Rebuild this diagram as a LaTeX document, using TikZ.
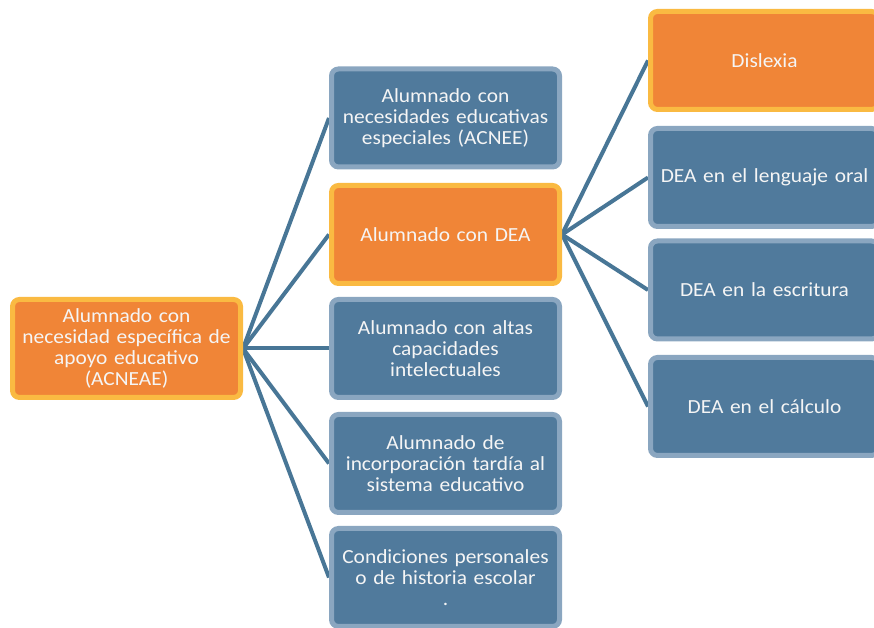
\documentclass[tikz,border=0pt]{standalone}
\usepackage{fontspec}
\setmainfont[FakeStretch=1.07]{Carlito}
\usetikzlibrary{backgrounds}
\definecolor{bfill}{RGB}{80,122,156}
\definecolor{bedge}{RGB}{138,166,192}
\definecolor{ofill}{RGB}{240,133,55}
\definecolor{oedge}{RGB}{250,186,66}
\definecolor{link}{RGB}{72,118,150}
\definecolor{txt}{RGB}{245,245,245}
\tikzset{
  box/.style={rectangle, rounded corners=7pt, line width=5pt, minimum width=228pt,
    minimum height=98pt, text width=222pt, align=center, text=txt,
    font=\fontsize{20}{21}\selectfont, inner sep=2pt},
  bluebox/.style={box, fill=bfill, draw=bedge},
  orangebox/.style={box, fill=ofill, draw=oedge},
  conn/.style={draw=link, line width=4pt}
}
\begin{document}
\begin{tikzpicture}[x=1pt,y=1pt]
\useasboundingbox (0,0) rectangle (874,628);
\clip (0,0) rectangle (874,628);
\node[orangebox] (root) at (126.5,279.5) {Alumnado con\\necesidad específica de\\apoyo educativo\\(ACNEAE)};
\node[bluebox] (acnee) at (445.5,510) {Alumnado con\\necesidades educativas\\especiales (ACNEE)};
\node[orangebox] (dea) at (445.5,393.5) {Alumnado con DEA};
\node[bluebox] (altas) at (445.5,279.5) {Alumnado con altas\\capacidades\\intelectuales};
\node[bluebox] (tardia) at (445.5,164.5) {Alumnado de\\incorporación tardía al\\sistema educativo};
\node[bluebox] (cond) at (445.5,50.5) {Condiciones personales\\o de historia escolar\\.};
\node[orangebox] (dis) at (764.5,567.5) {Dislexia};
\node[bluebox] (oral) at (764.5,450.5) {DEA en el lenguaje oral};
\node[bluebox] (escr) at (764.5,338) {DEA en la escritura};
\node[bluebox] (calc) at (764.5,221.5) {DEA en el cálculo};
\begin{scope}[on background layer]
\foreach \t in {acnee,dea,altas,tardia,cond} \draw[conn] (root.east) -- (\t.west);
\foreach \t in {dis,oral,escr,calc} \draw[conn] (dea.east) -- (\t.west);
\end{scope}
\end{tikzpicture}
\end{document}
